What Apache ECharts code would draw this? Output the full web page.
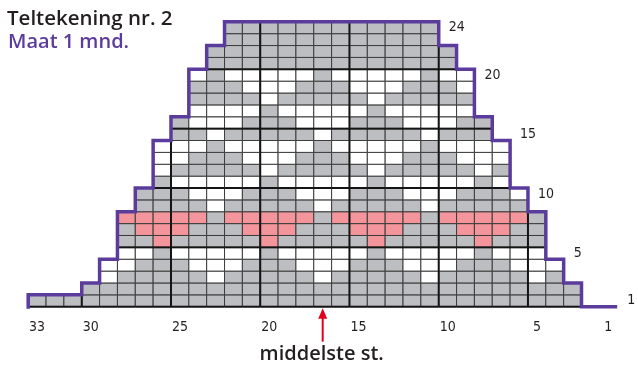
<!DOCTYPE html>
<html><head><meta charset="utf-8">
<script src="https://cdn.jsdelivr.net/npm/echarts@6/dist/echarts.min.js"></script>
<style>html,body{margin:0;padding:0;background:#fff}#c{width:638px;height:368px}</style>
</head><body><div id="c"></div>
<script>
// ---- data ----
const titleText = 'Teltekening nr. 2';
const subtitleText = 'Maat 1 mnd.';
const xTickLabels = [33, 30, 25, 20, 15, 10, 5, 1];   // stitch numbers under the chart
const rowLabels = [1, 5, 10, 15, 20, 24];             // row numbers on the right
const middleStitch = 17;
const middleLabel = 'middelste st.';
const baseEndCol = 1;                                  // bottom outline runs out to stitch 1
// leftmost stitch of each row (row 1 = bottom)
const rowLeftCol = [33,30,29,29,28,28,28,28,27,27,26,26,26,26,25,25,24,24,24,24,23,23,22,22];
// cell colours of each row, read left (high stitch no.) to right: G grey, W white, P pink
const rowCells = [
  'GGGGGGGGGG GGGGGGGGGG GGGGGGGGGG G',      // 1
  'GGGGGGGGGG GGGGGGGGGG GGGGGGGG',          // 2
  'WG GGGGWG GGGGWG GGGGWG GGGGWG',          // 3
  'WW GGGWWW GGGWWW GGGWWW GGGWWW',          // 4
  'W WGWWWW WGWWWW WGWWWW WGWWW',            // 5
  'G GPGGGG GPGGGG GPGGGG GPGGG',            // 6
  'G PPPGGG PPPGGG PPPGGG PPPGG',            // 7
  'P PPPPGP PPPPGP PPPPGP PPPPG',            // 8
  'GGGGWG GGGGWG GGGGWG GGGG',               // 9
  'GGGWWW GGGWWW GGGWWW GGGW',               // 10
  'GWWWW WGWWWW WGWWWW WGW',                 // 11
  'WGGGG GWGGGG GWGGGG GWG',                 // 12
  'WWGGG WWWGGG WWWGGG WWW',                 // 13
  'WWWGW WWWWGW WWWWGW WWW',                 // 14
  'GGWG GGGGWG GGGGWG GG',                   // 15
  'GWWW GGGWWW GGGWWW GG',                   // 16
  'WWW WGWWWW WGWWWW W',                     // 17
  'GGG GWGGGG GWGGGG G',                     // 18
  'GGG WWWGGG WWWGGG W',                     // 19
  'WGW WWWWGW WWWWGW W',                     // 20
  'GGGGGGGGGG GGGG',                         // 21
  'GGGGGGGGGG GGGG',                         // 22
  'GGGGGGGGGG GG',                           // 23
  'GGGGGGGGGG GG'                            // 24
].map(s => s.replace(/ /g, ''));

// ---- styles ----
const FILL = { G: '#bdbec2', W: '#ffffff', P: '#f4959b' };
const CODES = ['G', 'W', 'P'];
const PURPLE = '#5b3c9d';
const INK = '#231f20';
const NUMFONT = '"Liberation Sans Narrow","DejaVu Sans Condensed",Roboto,sans-serif';
const TXTFONT = '"Open Sans",Lato,sans-serif';

const cells = [];
rowCells.forEach((s, ri) => {
  for (let i = 0; i < s.length; i++) cells.push([rowLeftCol[ri] - i, ri + 1, CODES.indexOf(s[i])]);
});
const rowRightCol = rowCells.map((s, ri) => rowLeftCol[ri] - s.length + 1);

const chart = echarts.init(document.getElementById('c'), null, { renderer: 'canvas' });

function cellBox(api) {
  const c = api.value(0), r = api.value(1);
  const a = api.coord([c + 0.5, r]), b = api.coord([c - 0.5, r - 1]);
  return { x: a[0], y: a[1], width: b[0] - a[0], height: b[1] - a[1] };
}

chart.setOption({
  animation: false,
  backgroundColor: '#fff',
  graphic: [
    { type: 'text', left: 7, top: 9, style: { text: titleText, fill: INK, font: '600 20.5px ' + TXTFONT } },
    { type: 'text', left: 8, top: 32, style: { text: subtitleText, fill: PURPLE, font: '600 20px ' + TXTFONT } }
  ],
  grid: { left: 28.2, right: 20.8, top: 21.8, bottom: 61.3, containLabel: false },
  xAxis: {
    type: 'value', min: 0.5, max: 33.5, inverse: true,
    axisLine: { show: false }, axisTick: { show: false }, splitLine: { show: false },
    axisLabel: { customValues: xTickLabels, color: INK, fontSize: 14, fontFamily: NUMFONT, margin: 14 }
  },
  yAxis: { type: 'value', min: 0, max: 24, show: false },
  series: [
    {
      type: 'custom', z: 1, data: cells, encode: { x: 0, y: 1 },
      renderItem(params, api) {
        return { type: 'rect', shape: cellBox(api),
          style: { fill: FILL[CODES[api.value(2)]], stroke: '#3c3c3c', lineWidth: 1 } };
      }
    },
    {
      type: 'custom', z: 2, data: cells, encode: { x: 0, y: 1 },
      renderItem(params, api) {
        const c = api.value(0), r = api.value(1), ch = [];
        const st = { stroke: '#141414', lineWidth: 2 };
        const seg = (p, q) => ch.push({ type: 'line', shape: { x1: p[0], y1: p[1], x2: q[0], y2: q[1] }, style: st });
        if (c % 5 === 0) seg(api.coord([c + 0.5, r]), api.coord([c + 0.5, r - 1]));
        if (r % 5 === 0) seg(api.coord([c + 0.5, r]), api.coord([c - 0.5, r]));
        if (r === 1) seg(api.coord([c + 0.5, 0]), api.coord([c - 0.5, 0]));
        return { type: 'group', children: ch };
      }
    },
    {
      type: 'custom', z: 3, data: [[0, 0]],
      renderItem(params, api) {
        const v = [[rowLeftCol[0] + 0.5, 0]];
        for (let r = 1; r <= rowLeftCol.length; r++) {
          v.push([rowLeftCol[r - 1] + 0.5, r - 1], [rowLeftCol[r - 1] + 0.5, r]);
        }
        for (let r = rowRightCol.length; r >= 1; r--) {
          v.push([rowRightCol[r - 1] - 0.5, r], [rowRightCol[r - 1] - 0.5, r - 1]);
        }
        v.push([baseEndCol - 0.5, 0]);
        const pts = [];
        v.forEach(p => { const q = api.coord(p); const l = pts[pts.length - 1];
          if (!l || Math.abs(l[0] - q[0]) > 0.01 || Math.abs(l[1] - q[1]) > 0.01) pts.push(q); });
        pts[0] = [pts[0][0], pts[0][1] + 2];
        return { type: 'polyline', shape: { points: pts },
          style: { stroke: PURPLE, lineWidth: 3.5, fill: null, lineJoin: 'miter' } };
      }
    },
    {
      type: 'custom', z: 4, data: rowLabels.map(r => [r]),
      renderItem(params, api) {
        const r = api.value(0);
        const edge = r === 1 ? baseEndCol : Math.min(rowRightCol[r - 1], rowRightCol[r - 2]);
        const p = api.coord([edge - 0.5, r - 0.5]);
        return { type: 'text', x: p[0] + 10, y: p[1],
          style: { text: String(r), fill: INK, font: '14px ' + NUMFONT, align: 'left', verticalAlign: 'middle' } };
      }
    },
    {
      type: 'custom', z: 4, data: [[middleStitch]],
      renderItem(params, api) {
        const p = api.coord([api.value(0), 0]);
        const red = '#e3001b';
        return { type: 'group', children: [
          { type: 'line', shape: { x1: p[0], y1: p[1] + 8, x2: p[0], y2: p[1] + 35 }, style: { stroke: red, lineWidth: 2 } },
          { type: 'polygon', shape: { points: [[p[0], p[1] + 1.5], [p[0] - 4.5, p[1] + 12], [p[0] + 4.5, p[1] + 12]] }, style: { fill: red } },
          { type: 'text', x: p[0] - 1, y: p[1] + 48, style: { text: middleLabel, fill: INK, font: '600 20px ' + TXTFONT, align: 'center', verticalAlign: 'middle' } }
        ] };
      }
    }
  ]
});
</script></body></html>
